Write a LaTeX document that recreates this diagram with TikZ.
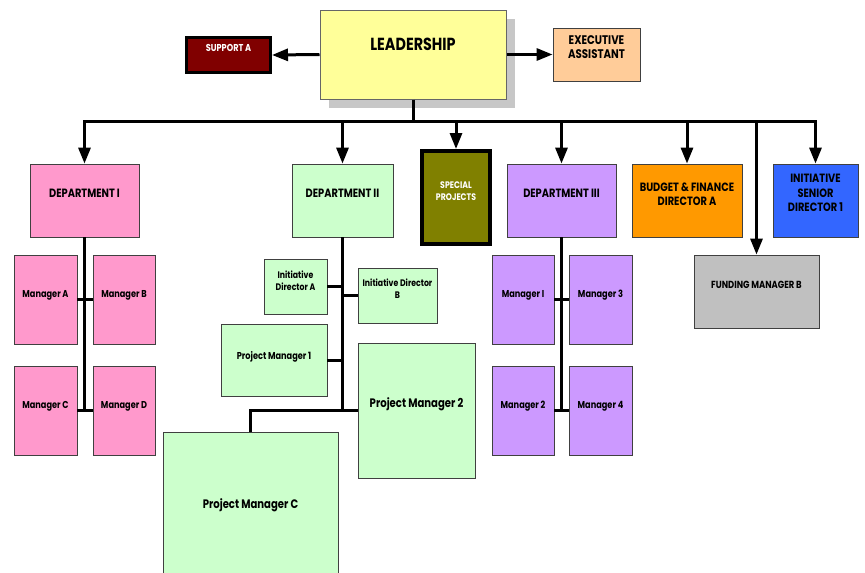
\documentclass[tikz,border=0pt]{standalone}
\usepackage{fontspec}
\setmainfont{Poppins}[FakeStretch=0.82]
\usetikzlibrary{arrows.meta, shadows}

\definecolor{leadyellow}{HTML}{FFFF99}
\definecolor{supportred}{HTML}{800000}
\definecolor{execpeach}{HTML}{FFCC99}
\definecolor{deptpink}{HTML}{FF99CC}
\definecolor{deptgreen}{HTML}{CCFFCC}
\definecolor{specolive}{HTML}{808000}
\definecolor{deptpurple}{HTML}{CC99FF}
\definecolor{budgetorange}{HTML}{FF9900}
\definecolor{fundgray}{HTML}{C0C0C0}
\definecolor{seniorblue}{HTML}{3366FF}

\tikzset{
  box/.style={draw=black!75, line width=0.8pt, align=center, inner sep=1pt},
  sz/.style 2 args={minimum width=#1pt, minimum height=#2pt},
  raise/.style={text depth=#1pt},
  fs/.style 2 args={font=\fontsize{#1}{#2}\selectfont\bfseries},
  conn/.style={line width=3pt},
  arr/.style={conn, -{Triangle[width=12pt, length=16pt]}},
}

\begin{document}
\begin{tikzpicture}[x=1pt, y=-1pt]
    \useasboundingbox (0,0) rectangle (865,573);

    % top row
    \node[box, fill=leadyellow, draw=black!60, line width=1pt, sz={186}{89}, raise=20, fs={17.5}{20},
          drop shadow={shadow xshift=9pt, shadow yshift=-9pt, fill=black!22, opacity=1}] (lead) at (413,54.5) {LEADERSHIP};
    \node[box, fill=supportred, draw=black, line width=3pt, text=white, sz={84}{35}, raise=14, fs={10}{12}] (sup) at (228.5,55) {SUPPORT A};
    \node[box, fill=execpeach, sz={87}{53}, raise=15, fs={12.5}{14}] (exec) at (596.5,54.5) {EXECUTIVE\\ASSISTANT};

    \draw[arr] (lead.west) -- (sup.east);
    \draw[arr] (lead.east) -- (exec.west);

    % second row
    \node[box, fill=deptpink, sz={109}{73}, raise=15, fs={12}{14}] (d1) at (84.5,200.5) {DEPARTMENT I};
    \node[box, fill=deptgreen, sz={101}{73}, raise=15, fs={12}{14}] (d2) at (342.5,200.5) {DEPARTMENT II};
    \node[box, fill=specolive, draw=black, line width=4pt, text=white, sz={68}{93}, raise=13, fs={9.5}{12}] (sp) at (456,197.5) {SPECIAL\\PROJECTS};
    \node[box, fill=deptpurple, sz={109}{73}, raise=15, fs={12}{14}] (d3) at (561.5,200.5) {DEPARTMENT III};
    \node[box, fill=budgetorange, sz={110}{73}, raise=13, fs={12}{14}] (bf) at (687,200.5) {BUDGET \& FINANCE\\DIRECTOR A};
    \node[box, fill=seniorblue, sz={85}{73}, raise=15, fs={12}{14.5}] (isd) at (815.5,200.5) {INITIATIVE\\SENIOR\\DIRECTOR 1};
    \node[box, fill=fundgray, sz={125}{73}, raise=13, fs={10.3}{12}] (fm) at (756.5,291.5) {FUNDING MANAGER B};

    % bus from leadership
    \coordinate (bus) at (0,121);
    \draw[conn] (lead.south) -- (lead.south |- bus);
    \draw[conn, line cap=rect] (d1.north |- bus) -- (isd.north |- bus);
    \foreach \n in {d1,d2,sp,d3,bf,fm,isd}
        \draw[arr] (\n.north |- bus) -- (\n.north);

    % department I
    \node[box, fill=deptpink, sz={63}{89}, raise=11, fs={10}{12}] (ma) at (45.5,299.5) {Manager A};
    \node[box, fill=deptpink, sz={62}{89}, raise=11, fs={10}{12}] (mb) at (124,299.5) {Manager B};
    \node[box, fill=deptpink, sz={63}{89}, raise=11, fs={10}{12}] (mc) at (45.5,410.5) {Manager C};
    \node[box, fill=deptpink, sz={62}{89}, raise=11, fs={10}{12}] (md) at (124,410.5) {Manager D};
    \draw[conn] (d1.south) -- (d1.south |- mc.east);
    \draw[conn] (ma.east) -- (mb.west);
    \draw[conn] (mc.east) -- (md.west);

    % department II
    \node[box, fill=deptgreen, sz={63}{55}, raise=11, fs={9.5}{12}] (ida) at (295.5,286.5) {Initiative\\Director A};
    \node[box, fill=deptgreen, sz={79}{55}, raise=13, fs={9.5}{12}] (idb) at (397.5,295.5) {Initiative Director\\B};
    \node[box, fill=deptgreen, sz={106}{72}, raise=10, fs={10}{12}] (pm1) at (274,360) {Project Manager 1};
    \node[box, fill=deptgreen, sz={117}{135}, raise=15, fs={12.3}{14}] (pm2) at (416.5,410.5) {Project Manager 2};
    \node[box, fill=deptgreen, sz={175}{148}, raise=4, fs={12.3}{14}] (pmc) at (250.5,506) {Project Manager C};
    \coordinate (d2end) at (d2.south |- pm2.west);
    \draw[conn] (d2.south) -- (d2end);
    \draw[conn] (ida.east) -- (ida.east -| d2end);
    \draw[conn] (idb.west) -- (idb.west -| d2end);
    \draw[conn] (pm1.east) -- (pm1.east -| d2end);
    \draw[conn] (pm2.west) -- (d2end) -| (pmc.north);

    % department III
    \node[box, fill=deptpurple, sz={62}{89}, raise=11, fs={10}{12}] (mi) at (523,299.5) {Manager I};
    \node[box, fill=deptpurple, sz={63}{89}, raise=11, fs={10}{12}] (m3) at (600.5,299.5) {Manager 3};
    \node[box, fill=deptpurple, sz={62}{89}, raise=11, fs={10}{12}] (m2) at (523,410.5) {Manager 2};
    \node[box, fill=deptpurple, sz={63}{89}, raise=11, fs={10}{12}] (m4) at (600.5,410.5) {Manager 4};
    \draw[conn] (d3.south) -- (d3.south |- m2.east);
    \draw[conn] (mi.east) -- (m3.west);
    \draw[conn] (m2.east) -- (m4.west);
\end{tikzpicture}
\end{document}
